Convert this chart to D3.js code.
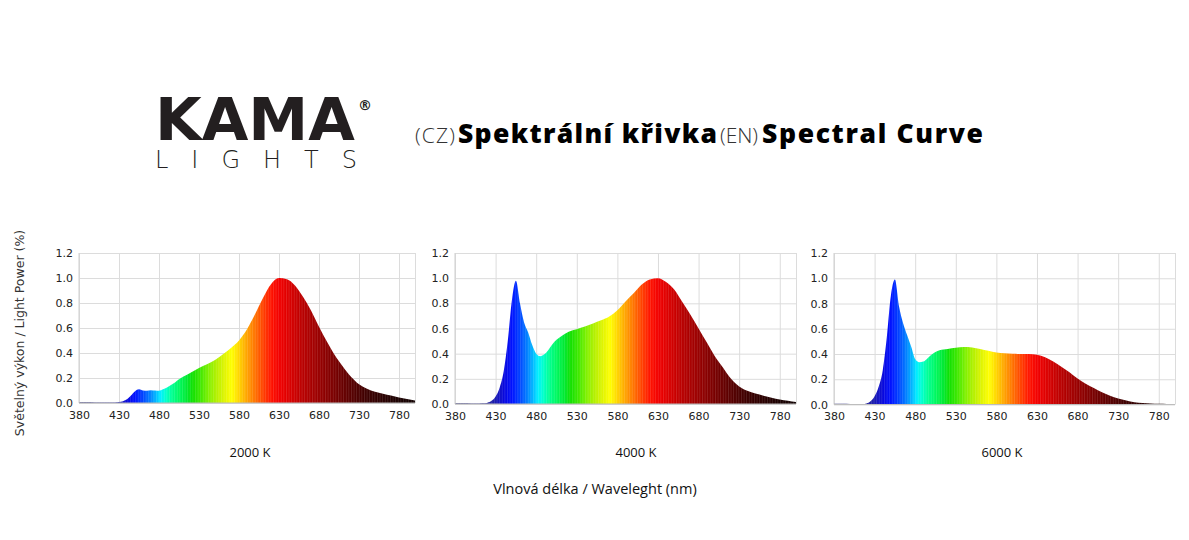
<!DOCTYPE html>
<html>
<head>
<meta charset="utf-8">
<script src="https://cdn.jsdelivr.net/npm/d3@7/dist/d3.min.js"></script>
<style>
  html, body { margin: 0; padding: 0; background: #fff; }
  svg { display: block; }
</style>
</head>
<body>
<svg id="chart" width="1189" height="540"></svg>
<script>
// ---------------- DATA ----------------
const wavelengths = [380,390,400,410,415,420,425,430,435,440,445,450,455,460,465,470,475,480,485,490,495,500,505,510,
  520,530,540,550,560,570,580,590,600,610,620,630,640,650,660,670,680,690,700,710,720,730,740,750,760,770,780,790,800];

const power2000K = [0.006,0.006,0.005,0.004,0.004,0.004,0.005,0.008,0.015,0.03,0.06,0.095,0.11,0.10,0.098,0.103,0.10,0.098,0.11,0.125,0.145,0.165,0.19,0.21,
  0.245,0.28,0.31,0.345,0.39,0.44,0.50,0.59,0.71,0.84,0.95,1.0,0.99,0.94,0.85,0.74,0.61,0.49,0.38,0.29,0.21,0.15,0.115,0.09,0.075,0.06,0.045,0.033,0.02];

const power4000K = [0.006,0.005,0.004,0.004,0.005,0.01,0.025,0.06,0.13,0.26,0.50,0.82,0.98,0.80,0.65,0.57,0.47,0.40,0.38,0.395,0.43,0.475,0.51,0.535,
  0.575,0.595,0.615,0.64,0.665,0.695,0.745,0.815,0.88,0.95,0.99,1.0,0.97,0.91,0.81,0.71,0.60,0.49,0.38,0.29,0.20,0.14,0.105,0.083,0.066,0.05,0.036,0.025,0.015];

const power6000K = [0.005,0.005,0.004,0.004,0.004,0.008,0.025,0.065,0.14,0.27,0.53,0.86,0.99,0.78,0.645,0.55,0.46,0.36,0.335,0.34,0.365,0.395,0.415,0.43,
  0.44,0.45,0.455,0.452,0.44,0.425,0.412,0.405,0.402,0.40,0.40,0.395,0.375,0.34,0.30,0.255,0.205,0.165,0.13,0.097,0.07,0.047,0.031,0.018,0.011,0.007,0.005,0.004,0.003];

const seriesLabels = ["2000 K", "4000 K", "6000 K"];
const xTicks = [380,430,480,530,580,630,680,730,780];
const yTicks = [0,0.2,0.4,0.6,0.8,1.0,1.2];
const yAxisTitle = "Světelný výkon / Light Power (%)";
const xAxisTitle = "Vlnová délka / Waveleght (nm)";
const titleParts = ["(CZ)", "Spektrální křivka", "(EN)", "Spectral Curve"];

// ---------------- DRAW ----------------
const svg = d3.select("#chart");
const defs = svg.append("defs");

// spectral colour scale (wavelength -> colour)
const specStops = [
  [380,"#2c2c72"],[420,"#25259a"],[430,"#1a1ab0"],[440,"#0808dc"],[450,"#0010ff"],[460,"#0044ff"],[470,"#0088ff"],
  [477,"#00c0ff"],[482,"#00eeff"],[488,"#00ffd0"],[495,"#00ff98"],[505,"#00f860"],[515,"#00e830"],[522,"#10e000"],
  [532,"#40e800"],[542,"#80f000"],[552,"#b4f000"],[562,"#e0f400"],[571,"#ffff00"],[580,"#ffd400"],[590,"#ffa200"],
  [600,"#ff7200"],[610,"#ff4200"],[620,"#ff1400"],[630,"#f20000"],[640,"#e00000"],[650,"#cc0000"],[660,"#b80000"],
  [680,"#980000"],[700,"#780000"],[720,"#580000"],[740,"#3c0000"],[760,"#2a0000"],[780,"#1a0000"],[800,"#100000"]
];

// stripe pattern (bar texture)
const pat = defs.append("pattern").attr("id","stripes").attr("patternUnits","userSpaceOnUse")
  .attr("width",2.6).attr("height",10);
pat.append("rect").attr("x",0).attr("y",0).attr("width",0.9).attr("height",10)
  .attr("fill","#ffffff").attr("opacity",0.13);

const panels = [
  {left:79,  width:336, top:253, bottom:403, values:power2000K, label:seriesLabels[0], labelX:250},
  {left:455, width:341, top:253, bottom:404, values:power4000K, label:seriesLabels[1], labelX:636},
  {left:834, width:341, top:253, bottom:404.5, values:power6000K, label:seriesLabels[2], labelX:1002}
];

const tickFont = "DejaVu Sans, Verdana, sans-serif";

panels.forEach((p, i) => {
  const x = d3.scaleLinear().domain([380, 800]).range([p.left, p.left + p.width]);
  const y = d3.scaleLinear().domain([0, 1.2]).range([p.bottom, p.top]);
  const g = svg.append("g");

  // horizontal grid
  g.append("g").attr("transform", `translate(${p.left},0)`)
    .call(d3.axisLeft(y).tickValues(yTicks).tickSize(-p.width).tickFormat(""))
    .call(s => s.select(".domain").remove())
    .call(s => s.selectAll("line").attr("stroke","#dcdcdc").attr("stroke-width",1));
  // vertical grid
  g.append("g").attr("transform", `translate(0,${p.bottom})`)
    .call(d3.axisBottom(x).tickValues(xTicks.concat([800])).tickSize(-(p.bottom - p.top)).tickFormat(""))
    .call(s => s.select(".domain").remove())
    .call(s => s.selectAll("line").attr("stroke","#dcdcdc").attr("stroke-width",1));

  // gradient
  const gid = "spec" + i;
  const grad = defs.append("linearGradient").attr("id", gid)
    .attr("gradientUnits","userSpaceOnUse")
    .attr("x1", x(380)).attr("x2", x(800)).attr("y1",0).attr("y2",0);
  specStops.forEach(s => grad.append("stop")
    .attr("offset", ((s[0]-380)/420*100) + "%").attr("stop-color", s[1]));

  const pts = wavelengths.map((w, k) => [w, p.values[k]]);
  const area = d3.area().x(d => x(d[0])).y0(y(0)).y1(d => y(d[1])).curve(d3.curveMonotoneX);

  g.append("path").datum(pts).attr("d", area).attr("fill", `url(#${gid})`);
  g.append("path").datum(pts).attr("d", area).attr("fill", "url(#stripes)");

  // axes lines
  g.append("line").attr("x1", x(380)).attr("x2", x(800)).attr("y1", y(0)).attr("y2", y(0))
    .attr("stroke","#bdbdbd").attr("stroke-width",1);
  g.append("line").attr("x1", x(380)).attr("x2", x(380)).attr("y1", y(0)).attr("y2", y(1.2))
    .attr("stroke","#cfcfcf").attr("stroke-width",1);

  // tick labels
  const ya = g.append("g").attr("transform", `translate(${p.left},0)`)
    .call(d3.axisLeft(y).tickValues(yTicks).tickSize(0).tickPadding(6).tickFormat(d3.format(".1f")));
  ya.select(".domain").remove();
  ya.selectAll("text").attr("font-family", tickFont).attr("font-size", 11).attr("fill","#222");

  const xa = g.append("g").attr("transform", `translate(0,${p.bottom})`)
    .call(d3.axisBottom(x).tickValues(xTicks).tickSize(0).tickPadding(8).tickFormat(d3.format("d")));
  xa.select(".domain").remove();
  xa.selectAll("text").attr("font-family", tickFont).attr("font-size", 11).attr("fill","#222");

  // series label
  svg.append("text").attr("x", p.labelX).attr("y", 457).attr("text-anchor","middle")
    .attr("font-family","Open Sans, sans-serif").attr("font-size",13).attr("fill","#111")
    .text(p.label);
});

// y axis title
svg.append("text").attr("transform","translate(24,333) rotate(-90)").attr("text-anchor","middle")
  .attr("font-family", tickFont).attr("font-size", 12.5).attr("fill","#333").text(yAxisTitle);

// x axis title
svg.append("text").attr("x", 595).attr("y", 494).attr("text-anchor","middle")
  .attr("font-family","Open Sans, sans-serif").attr("font-size",14.5).attr("fill","#111").text(xAxisTitle);

// title (four parts laid out to the reference widths)
const titleBoxes = [
  {x:415, w:40,  weight:300, size:21, fill:"#333"},
  {x:458, w:259, weight:800, size:26.5, fill:"#000"},
  {x:720, w:38,  weight:300, size:21, fill:"#333"},
  {x:762, w:221, weight:800, size:26.5, fill:"#000"}
];
titleParts.forEach((t, k) => {
  const b = titleBoxes[k];
  svg.append("text").attr("x", b.x).attr("y", 143)
    .attr("font-family","Open Sans, sans-serif").attr("font-weight", b.weight)
    .attr("font-size", b.size).attr("fill", b.fill)
    .attr("textLength", b.w).attr("lengthAdjust","spacing").text(t);
});

// logo
svg.append("text").attr("x",155).attr("y",140).attr("font-family","DejaVu Sans, sans-serif").attr("font-weight",700)
  .attr("font-size",58).attr("fill","#231f20").attr("textLength",200).attr("lengthAdjust","spacingAndGlyphs").text("KAMA");
svg.append("text").attr("x",358).attr("y",110).attr("font-family","DejaVu Sans, sans-serif").attr("font-weight",700)
  .attr("font-size",14).attr("fill","#231f20").text("®");
svg.append("text").attr("x",155).attr("y",168).attr("font-family","DejaVu Sans, sans-serif").attr("font-weight",300)
  .attr("font-size",24).attr("fill","#231f20").attr("textLength",202).attr("lengthAdjust","spacing").text("LIGHTS");
</script>
</body>
</html>
